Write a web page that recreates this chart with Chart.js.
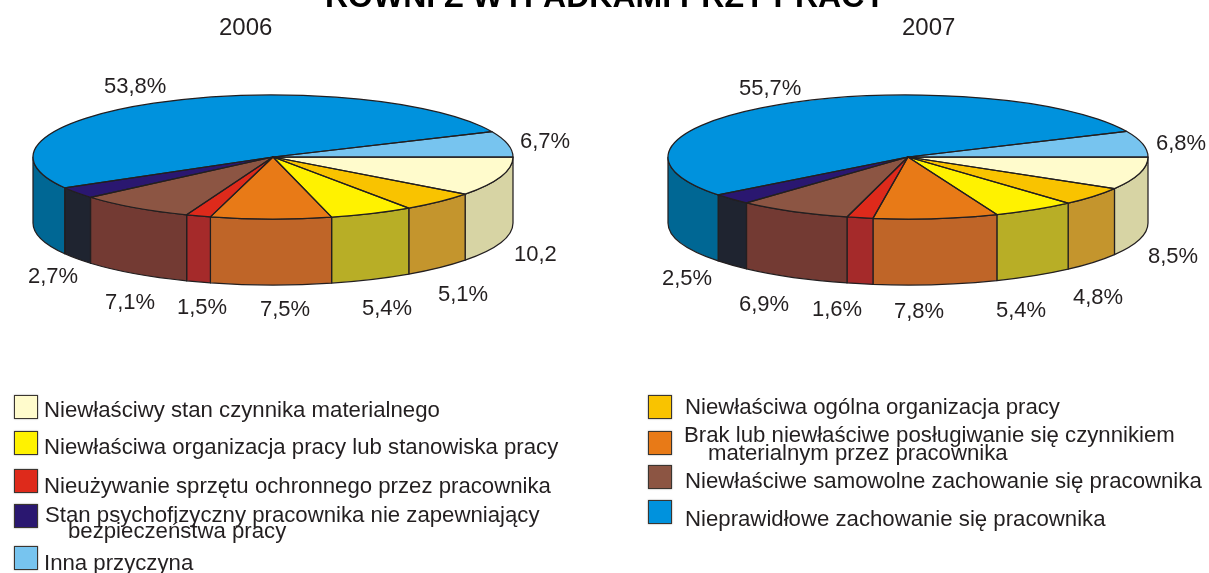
<!DOCTYPE html>
<html lang="pl"><head><meta charset="utf-8">
<script src="https://cdn.jsdelivr.net/npm/chart.js@4"></script>
<style>
html,body{margin:0;padding:0;background:#fff;width:1209px;height:573px;overflow:hidden}
body{position:relative;font-family:"Liberation Sans",Arial,sans-serif;color:#231f20}
canvas{position:absolute;top:0}
.t{position:absolute;white-space:nowrap;line-height:normal}
.s{position:absolute;box-sizing:border-box;width:24px;height:24px;border:1.5px solid #3a3530;box-shadow:0 0 1.5px #8a8a8a}
</style></head><body>
<canvas id="c2006"></canvas><canvas id="c2007"></canvas>
<script>
// ---- data (slice order, clockwise from 3 o'clock) ----
const categories = [
  "Niewłaściwy stan czynnika materialnego",
  "Niewłaściwa ogólna organizacja pracy",
  "Niewłaściwa organizacja pracy lub stanowiska pracy",
  "Brak lub niewłaściwe posługiwanie się czynnikiem materialnym przez pracownika",
  "Nieużywanie sprzętu ochronnego przez pracownika",
  "Niewłaściwe samowolne zachowanie się pracownika",
  "Stan psychofizyczny pracownika nie zapewniający bezpieczeństwa pracy",
  "Nieprawidłowe zachowanie się pracownika",
  "Inna przyczyna"
];
const values2006 = [10.2, 5.1, 5.4, 7.5, 1.5, 7.1, 2.7, 53.8, 6.7];
const values2007 = [8.5, 4.8, 5.4, 7.8, 1.6, 6.9, 2.5, 55.7, 6.8];
const printed2006 = ["10,2","5,1%","5,4%","7,5%","1,5%","7,1%","2,7%","53,8%","6,7%"];
const printed2007 = ["8,5%","4,8%","5,4%","7,8%","1,6%","6,9%","2,5%","55,7%","6,8%"];
const topColors  = ["#FFFBCC","#F9C300","#FFF200","#E87A17","#DE2A1B","#8C5543","#2A1770","#0092DD","#77C4EF"];
const wallColors = ["#D7D4A4","#C4952D","#B8AE26","#BF6528","#A52A2A","#733A33","#1F2430","#006794","#5A9CC0"];

// ---- layout ----
const RADIUS = 240, TILT = 62/240, DEPTH = 66, TOP_Y = 157, LINE = "#231f20";
const labelPos2006 = [[514,261],[438,301],[362,315],[260,316],[177,314],[105,309],[28,283],[104,93],[520,148]];
const labelPos2007 = [[513,263],[438,304],[361,317],[259,318],[177,316],[104,311],[27,285],[104,95],[521,150]]; // relative to the second canvas' shift

// The reference's 3D projection opens the front-left a little; applied at draw time only.
function project(a){ const s=(1-Math.cos(a))/2; return a + (10*Math.PI/180)*s*s; }

function pie3d(positions, printed, shiftX){
  return {
    id:'pie3d',
    beforeDatasetsDraw(chart){
      const ctx = chart.ctx, arcs = chart.getDatasetMeta(0).data;
      const parts = arcs.map(el=>{
        const a = project(el.startAngle), b = project(el.endAngle);
        return {el,a,b};
      });
      const cx = arcs[0].x, r = arcs[0].outerRadius, ry = r*TILT;
      ctx.lineWidth = 1.25; ctx.strokeStyle = LINE; ctx.lineJoin = 'round';
      // side walls: only the front half of the rim is visible
      parts.forEach((p,i)=>{
        const a = Math.max(p.a,0), b = Math.min(p.b,Math.PI);
        if (b<=a) return;
        ctx.beginPath();
        ctx.ellipse(cx,TOP_Y,r,ry,0,a,b);
        ctx.ellipse(cx,TOP_Y+DEPTH,r,ry,0,b,a,true);
        ctx.closePath();
        ctx.fillStyle = wallColors[i]; ctx.fill(); ctx.stroke();
      });
      // top face: the library's own arc elements, squashed into an ellipse
      parts.forEach(p=>{
        const f = Object.create(p.el);
        f.options = Object.assign({},p.el.options,{borderWidth:0});
        f.startAngle = p.a; f.endAngle = p.b; f.circumference = p.b-p.a;
        ctx.save();
        ctx.translate(cx,TOP_Y); ctx.scale(1,TILT); ctx.translate(-p.el.x,-p.el.y);
        Chart.registry.getElement('arc').prototype.draw.call(f,ctx);
        ctx.restore();
      });
      parts.forEach(p=>{
        ctx.beginPath();
        ctx.moveTo(cx,TOP_Y);
        ctx.ellipse(cx,TOP_Y,r,ry,0,p.a,p.b);
        ctx.closePath(); ctx.stroke();
      });
      // printed values
      ctx.fillStyle = LINE; ctx.font = '22px "Liberation Sans"';
      ctx.textAlign='left'; ctx.textBaseline='alphabetic';
      printed.forEach((t,i)=>ctx.fillText(t,positions[i][0]+shiftX,positions[i][1]));
      return false;
    }
  };
}

function makeChart(id,left,centerX,values,positions,printed,shiftX){
  const c=document.getElementById(id);
  c.style.left=left+'px'; c.width=604; c.height=573;
  c.style.width='604px'; c.style.height='573px';
  return new Chart(c,{
    type:'pie',
    data:{labels:categories,datasets:[{data:values,backgroundColor:topColors,borderWidth:0}]},
    options:{
      responsive:false,animation:false,rotation:90,
      layout:{padding:{left:centerX-RADIUS,right:604-centerX-RADIUS,top:46.5,bottom:46.5}},
      plugins:{legend:{display:false},tooltip:{enabled:false},title:{display:false}}
    },
    plugins:[pie3d(positions,printed,shiftX)]
  });
}
makeChart('c2006',0,273,values2006,labelPos2006,printed2006,0);
makeChart('c2007',605,303,values2007,labelPos2007,printed2007,30);

// ---- text and legend ----
function text(s,x,base,fs,extra){
  const d=document.createElement('div'); d.className='t'; d.textContent=s;
  d.style.cssText=`left:${x}px;top:${base-0.905*fs}px;font-size:${fs}px;`+(extra||'');
  document.body.appendChild(d);
}
function swatch(i,x,y){
  const d=document.createElement('div'); d.className='s';
  d.style.cssText=`left:${x}px;top:${y}px;background:${topColors[i]}`;
  document.body.appendChild(d);
}
text("RÓWNI Z WYPADKAMI PRZY PRACY",325,7,32,"font-weight:bold;color:#000");
text("2006",219,35,24); text("2007",902,35,24);
const LF=22.2;
swatch(0,14,395); text("Niewłaściwy stan czynnika materialnego",44,417,LF);
swatch(2,14,431); text("Niewłaściwa organizacja pracy lub stanowiska pracy",44,454,LF);
swatch(4,14,469); text("Nieużywanie sprzętu ochronnego przez pracownika",44,493,LF);
swatch(6,14,504); text("Stan psychofizyczny pracownika nie zapewniający",45,522,LF); text("bezpieczeństwa pracy",68,538,LF);
swatch(8,14,546); text("Inna przyczyna",44,570,LF);
swatch(1,648,395); text("Niewłaściwa ogólna organizacja pracy",685,414,LF);
swatch(3,648,431); text("Brak lub niewłaściwe posługiwanie się czynnikiem",684,442,LF); text("materialnym przez pracownika",708,460,LF);
swatch(5,648,465); text("Niewłaściwe samowolne zachowanie się pracownika",685,488,LF);
swatch(7,648,500); text("Nieprawidłowe zachowanie się pracownika",685,526,LF);
</script>
</body></html>
